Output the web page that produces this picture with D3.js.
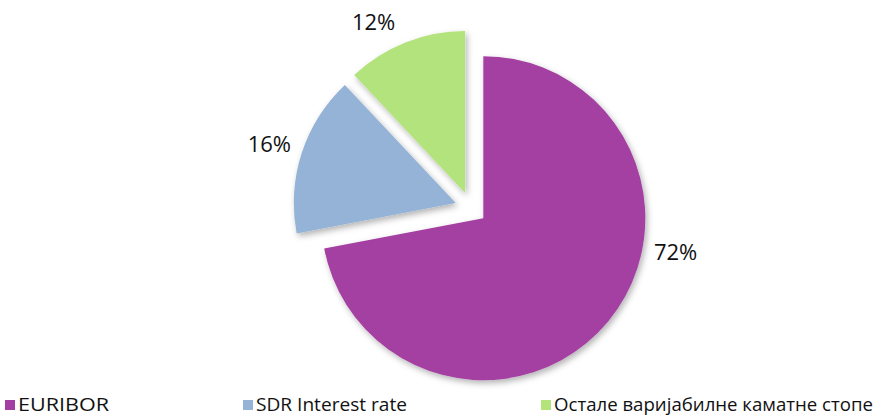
<!DOCTYPE html>
<html>
<head>
<meta charset="utf-8">
<script src="https://cdn.jsdelivr.net/npm/d3@7"></script>
<style>
  html, body { margin: 0; padding: 0; background: #fff; }
  svg { display: block; }
</style>
</head>
<body>
<svg id="chart" width="877" height="417"></svg>
<script>
const categories = ["EURIBOR", "SDR Interest rate", "Остале варијабилне каматне стопе"];
const values = [72, 16, 12];
const valueLabels = ["72%", "16%", "12%"];
const colors = ["#A33FA2", "#95B3D7", "#B3E37B"];

const svg = d3.select("#chart");
const cx = 471, cy = 208, R = 162, explode = 16;

const defs = svg.append("defs");
const f = defs.append("filter").attr("id", "shadow").attr("x", "-20%").attr("y", "-20%").attr("width", "140%").attr("height", "140%");
f.append("feDropShadow").attr("dx", 2).attr("dy", 3).attr("stdDeviation", 3)
  .attr("flood-color", "#000").attr("flood-opacity", 0.3);

const pie = d3.pie().sort(null).value(d => d).startAngle(0).endAngle(2 * Math.PI);
const arcs = pie(values);
const arc = d3.arc().innerRadius(0).outerRadius(R);

const g = svg.append("g").attr("transform", `translate(${cx},${cy})`);

g.selectAll("path.slice")
  .data(arcs)
  .join("path")
  .attr("class", "slice")
  .attr("fill", (d, i) => colors[i])
  .attr("filter", "url(#shadow)")
  .attr("transform", d => {
    const m = (d.startAngle + d.endAngle) / 2;
    return `translate(${explode * Math.sin(m)},${-explode * Math.cos(m)})`;
  })
  .attr("d", arc);

// Data labels (best-fit style placement around the pie)
const labelPlace = (d, i) => {
  const m = (d.startAngle + d.endAngle) / 2;
  const shift = [-0.485, 0, -0.103][i];
  const dist = [209, 212, 211][i];
  const a = m + shift;
  return [dist * Math.sin(a), -dist * Math.cos(a)];
};
g.selectAll("text.lbl")
  .data(arcs)
  .join("text")
  .attr("class", "lbl")
  .attr("x", (d, i) => labelPlace(d, i)[0])
  .attr("y", (d, i) => labelPlace(d, i)[1])
  .attr("text-anchor", "middle")
  .attr("dominant-baseline", "central")
  .attr("font-family", "'Open Sans', 'Liberation Sans', sans-serif")
  .attr("font-size", 22)
  .attr("fill", "#111")
  .text((d, i) => valueLabels[i]);

// Legend
const legendX = [5, 243, 541];
const legendW = [91, 151, 319];
const lg = svg.append("g");
const items = lg.selectAll("g.item").data(categories).join("g").attr("class", "item")
  .attr("transform", (d, i) => `translate(${legendX[i]},0)`);
items.append("rect").attr("x", 0).attr("y", 400).attr("width", 10).attr("height", 10)
  .attr("fill", (d, i) => colors[i]);
items.append("text")
  .attr("x", 13)
  .attr("y", 411)
  .attr("font-family", "'Open Sans', 'Liberation Sans', sans-serif")
  .attr("font-size", 18)
  .attr("fill", "#111")
  .attr("textLength", (d, i) => legendW[i])
  .attr("lengthAdjust", "spacingAndGlyphs")
  .text(d => d);
</script>
</body>
</html>
